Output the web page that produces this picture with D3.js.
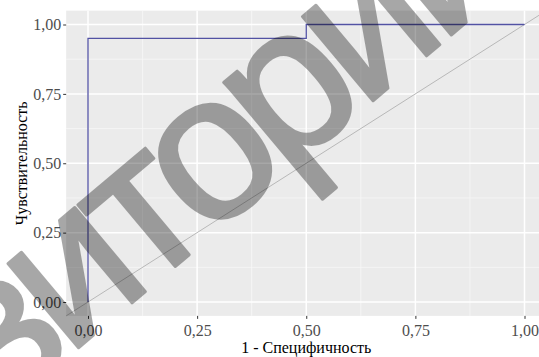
<!DOCTYPE html>
<html>
<head>
<meta charset="utf-8">
<script src="https://cdn.jsdelivr.net/npm/d3@7"></script>
<style>
  body { margin: 0; background: #fff; }
  svg { display: block; }
</style>
</head>
<body>
<script>
// ROC curve values
var fpr = [0, 0, 0.5, 0.5, 1];
var tpr = [0, 0.95, 0.95, 1, 1];
var majorTicks = [0, 0.25, 0.5, 0.75, 1];
var minorTicks = [0.125, 0.375, 0.625, 0.875];
var xTitle = '1 - Специфичность';
var yTitle = 'Чувствительность';
var watermark = 'репозиторий';

var width = 539;
var height = 357;

var x = d3.scaleLinear().domain([0, 1]).range([88, 524.5]);
var y = d3.scaleLinear().domain([0, 1]).range([302, 24.5]);

var comma = function(d) { return d3.format('.2f')(d).replace('.', ','); };

var svg = d3.select('body')
  .append('svg')
  .attr('width', width)
  .attr('height', height);

// panel edges (5% expansion like ggplot)
var pLeft = x(-0.05), pRight = x(1.05), pTop = y(1.05), pBottom = y(-0.05);

svg.append('rect')
  .attr('x', pLeft)
  .attr('y', pTop)
  .attr('width', pRight - pLeft)
  .attr('height', pBottom - pTop)
  .style('fill', '#ebebeb');

var grid = svg.append('g');
minorTicks.forEach(function(t) {
  grid.append('line').attr('x1', x(t)).attr('x2', x(t)).attr('y1', pTop).attr('y2', pBottom)
    .style('stroke', '#f7f7f7').style('stroke-width', 0.8);
  grid.append('line').attr('y1', y(t)).attr('y2', y(t)).attr('x1', pLeft).attr('x2', pRight)
    .style('stroke', '#f7f7f7').style('stroke-width', 0.8);
});
majorTicks.forEach(function(t) {
  grid.append('line').attr('x1', x(t)).attr('x2', x(t)).attr('y1', pTop).attr('y2', pBottom)
    .style('stroke', '#fff').style('stroke-width', 1.5);
  grid.append('line').attr('y1', y(t)).attr('y2', y(t)).attr('x1', pLeft).attr('x2', pRight)
    .style('stroke', '#fff').style('stroke-width', 1.5);
});

// diagonal reference line across the whole panel
svg.append('line')
  .attr('x1', x(-0.05)).attr('y1', y(-0.05))
  .attr('x2', x(1.05)).attr('y2', y(1.05))
  .style('stroke', '#b8b8b8')
  .style('stroke-width', 1);

var line = d3.line()
  .x(function(d) { return x(d[0]); })
  .y(function(d) { return y(d[1]); });

svg.append('path')
  .datum(d3.zip(fpr, tpr))
  .attr('d', line)
  .style('fill', 'none')
  .style('stroke', '#5252a3')
  .style('stroke-width', 1.3);

var xAxis = svg.append('g')
  .attr('transform', 'translate(0,' + pBottom + ')')
  .call(d3.axisBottom(x).tickValues(majorTicks).tickFormat(comma).tickSize(3).tickPadding(6));
var yAxis = svg.append('g')
  .attr('transform', 'translate(' + pLeft + ',0)')
  .call(d3.axisLeft(y).tickValues(majorTicks).tickFormat(comma).tickSize(3).tickPadding(2));

[xAxis, yAxis].forEach(function(a) {
  a.select('.domain').remove();
  a.selectAll('line').style('stroke', '#333').style('stroke-width', 1);
  a.selectAll('text')
    .style('font-family', '"Liberation Serif", serif')
    .style('font-size', '16px')
    .style('fill', '#4d4d4d');
});

svg.append('text')
  .attr('x', (pLeft + pRight) / 2)
  .attr('y', 353)
  .attr('text-anchor', 'middle')
  .style('font-family', '"Liberation Serif", serif')
  .style('font-size', '16px')
  .style('fill', '#000')
  .text(xTitle);

svg.append('text')
  .attr('transform', 'translate(27,' + ((pTop + pBottom) / 2) + ') rotate(-90)')
  .attr('text-anchor', 'middle')
  .style('font-family', '"Liberation Serif", serif')
  .style('font-size', '16px')
  .style('fill', '#000')
  .text(yTitle);

// watermark laid over the chart
var wmAngle = -40;
var wm = svg.append('text')
  .style('font-family', '"Liberation Sans", sans-serif')
  .style('font-size', '208px')
  .style('letter-spacing', '-14px')
  .style('fill', '#000')
  .style('stroke', '#000')
  .style('stroke-width', 3)
  .style('stroke-linejoin', 'round')
  .style('opacity', 0.34)
  .text(watermark);

// place the bottom of the "т" stem where it sits in the reference
var node = wm.node();
var k = watermark.indexOf('т');
var along = node.getSubStringLength(0, k) + node.getSubStringLength(k, 1) / 2;
var ang = wmAngle * Math.PI / 180;
var tx = 176 - along * Math.cos(ang);
var ty = 266 - along * Math.sin(ang);
wm.attr('transform', 'translate(' + tx + ',' + ty + ') rotate(' + wmAngle + ')');
</script>
</body>
</html>
